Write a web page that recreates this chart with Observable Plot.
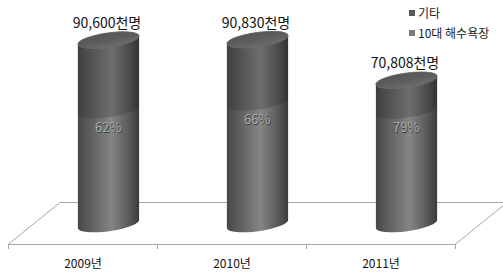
<!DOCTYPE html>
<html>
<head>
<meta charset="utf-8">
<script src="https://cdn.jsdelivr.net/npm/d3@7"></script>
<script src="https://cdn.jsdelivr.net/npm/@observablehq/plot@0.6"></script>
<style>
  html, body { margin: 0; padding: 0; background: #fff; overflow: hidden; }
  #wrap { position: relative; width: 503px; height: 278px; font-family: "Noto Sans CJK KR", "Noto Sans", sans-serif; }
  #legend { position: absolute; left: 409px; top: 3px; font-size: 12px; color: #222; line-height: 20px; }
  #legend .sw { display: inline-block; width: 6px; height: 6px; margin-right: 3px; vertical-align: 2px; }
</style>
</head>
<body>
<div id="wrap"><div id="legend"></div></div>
<script>
// ---- data ----
const years = ["2009년", "2010년", "2011년"];
const totals = [90600, 90830, 70808];
const beachPct = [62, 66, 79];
const totalLabels = ["90,600천명", "90,830천명", "70,808천명"];
const seriesNames = ["10대 해수욕장", "기타"];
const legendOrder = ["기타", "10대 해수욕장"];
const swatch = {"기타": "#585858", "10대 해수욕장": "#7a7a7a"};

// rows built from the arrays above
const rows = [];
years.forEach((yr, i) => {
  const beach = totals[i] * beachPct[i] / 100;
  rows.push({year: yr, series: seriesNames[0], y1: 0, y2: beach});
  rows.push({year: yr, series: seriesNames[1], y1: beach, y2: totals[i]});
});
const pctRows = years.map((yr, i) => ({year: yr, v: totals[i] * beachPct[i] / 100, label: beachPct[i] + "%"}));
const totRows = years.map((yr, i) => ({year: yr, v: totals[i], label: totalLabels[i]}));

// ---- 3D styling constants ----
const DEPTH_X = 52, DEPTH_Y = -42;          // floor depth
const CX = DEPTH_X / 2, CY = DEPTH_Y / 2 + 1; // cylinder position (middle depth)
const CYL_FRAC = 0.415, RY = 7.2, ROT = -8;
const NS = "http://www.w3.org/2000/svg";
const el = (tag, attrs) => { const e = document.createElementNS(NS, tag); for (const k in attrs) e.setAttribute(k, attrs[k]); return e; };

function floorRender(index, scales, values, dimensions) {
  const g = el("g", {fill: "none", stroke: "#a6a6a6", "stroke-width": 1});
  const y0 = values.y[index[0]];
  const bw = typeof scales.x.bandwidth === "function" ? scales.x.bandwidth() : scales.x.bandwidth;
  const x0 = scales.x(years[0]);
  const x1 = scales.x(years[years.length - 1]) + bw;
  const W = dimensions.width;
  const pts = [[x0, y0], [x1, y0], [Math.min(W, x1 + DEPTH_X), y0 + DEPTH_Y * Math.min(1, (W - x1) / DEPTH_X)]];
  g.appendChild(el("path", {d: `M${x0},${y0 + 0.5}H${x1}L${x1 + DEPTH_X},${y0 + DEPTH_Y + 0.5}`}));
  g.appendChild(el("path", {d: `M${x0},${y0 + 0.5}L${x0 + DEPTH_X},${y0 + DEPTH_Y + 0.5}H${Math.min(W, x1 + DEPTH_X)}`}));
  const edges = years.map(d => scales.x(d)).concat([x1]);
  for (const e of edges) g.appendChild(el("path", {d: `M${Math.round(e) + 0.5},${y0}V${y0 + 5}`}));
  return g;
}

function cylRender(index, scales, values, dimensions) {
  const g = el("g", {});
  const defs = el("defs", {});
  const grads = {
    [seriesNames[0]]: [["0", "#474747"], ["0.12", "#555"], ["0.55", "#858585"], ["0.85", "#575757"], ["1", "#3a3a3a"]],
    [seriesNames[1]]: [["0", "#3f3f3f"], ["0.12", "#4a4a4a"], ["0.55", "#6e6e6e"], ["0.85", "#4a4a4a"], ["1", "#323232"]]
  };
  const gid = {};
  seriesNames.forEach((s, k) => {
    const id = "cylgrad" + k; gid[s] = id;
    const lg = el("linearGradient", {id, x1: "0", x2: "1", y1: "0", y2: "0"});
    for (const [o, c] of grads[s]) lg.appendChild(el("stop", {offset: o, "stop-color": c}));
    defs.appendChild(lg);
  });
  const cg = el("linearGradient", {id: "capgrad", x1: "0", x2: "0.3", y1: "0", y2: "1"});
  [["0", "#545454"], ["0.6", "#5d5d5d"], ["1", "#6a6a6a"]].forEach(([o, c]) => cg.appendChild(el("stop", {offset: o, "stop-color": c})));
  defs.appendChild(cg);
  g.appendChild(defs);
  const bw = typeof scales.x.bandwidth === "function" ? scales.x.bandwidth() : scales.x.bandwidth;
  const rx = bw * CYL_FRAC / 2;
  const t = ROT * Math.PI / 180;
  const ex = rx * Math.cos(t), ey = rx * Math.sin(t);
  // draw bottom segments first
  const order = Array.from(index).sort((a, b) => seriesNames.indexOf(rows[a].series) - seriesNames.indexOf(rows[b].series));
  for (const i of order) {
    const cx = values.x[i] + bw / 2 + CX;
    const yb = values.y1[i] + CY;
    const yt = values.y2[i] + CY;
    const d = `M${cx - ex},${yb - ey}A${rx},${RY},${ROT},0,0,${cx + ex},${yb + ey}` +
              `L${cx + ex},${yt + ey}A${rx},${RY},${ROT},0,0,${cx - ex},${yt - ey}Z`;
    g.appendChild(el("path", {d, fill: `url(#${gid[rows[i].series]})`}));
    if (rows[i].series === seriesNames[1]) {
      g.appendChild(el("ellipse", {cx: 0, cy: 0, rx, ry: RY, transform: `translate(${cx},${yt}) rotate(${ROT})`,
        fill: "url(#capgrad)", stroke: "#6c6c6c", "stroke-width": 0.8}));
    }
  }
  return g;
}

const chart = Plot.plot({
  width: 503,
  height: 278,
  marginLeft: 7,
  marginRight: 48,
  marginTop: 41,
  marginBottom: 34,
  style: {fontFamily: "\"Noto Sans CJK KR\", \"Noto Sans\", sans-serif", background: "transparent"},
  x: {domain: years, padding: 0, label: null},
  y: {domain: [0, 100000], axis: null},
  marks: [
    Plot.ruleY([0], {render: floorRender}),
    Plot.barY(rows, {x: "year", y1: "y1", y2: "y2", render: cylRender}),
    Plot.text(pctRows, {x: "year", y: "v", text: "label", dx: CX, dy: CY + 18, fill: "#3a3a3a", fontSize: 13, stroke: "none"}),
    Plot.text(pctRows, {x: "year", y: "v", text: "label", dx: CX - 0.7, dy: CY + 17.3, fill: "#ababab", fontSize: 13}),
    Plot.text(totRows, {x: "year", y: "v", text: "label", dx: CX - 2, dy: CY - 17, fill: "#111", fontSize: 14}),
    Plot.axisX({tickSize: 0, tickPadding: 15, fontSize: 12, color: "#111", label: null})
  ]
});
document.getElementById("wrap").prepend(chart);

const leg = document.getElementById("legend");
legendOrder.forEach(s => {
  const d = document.createElement("div");
  d.innerHTML = `<span class="sw" style="background:${swatch[s]}"></span>${s}`;
  leg.appendChild(d);
});
</script>
</body>
</html>
